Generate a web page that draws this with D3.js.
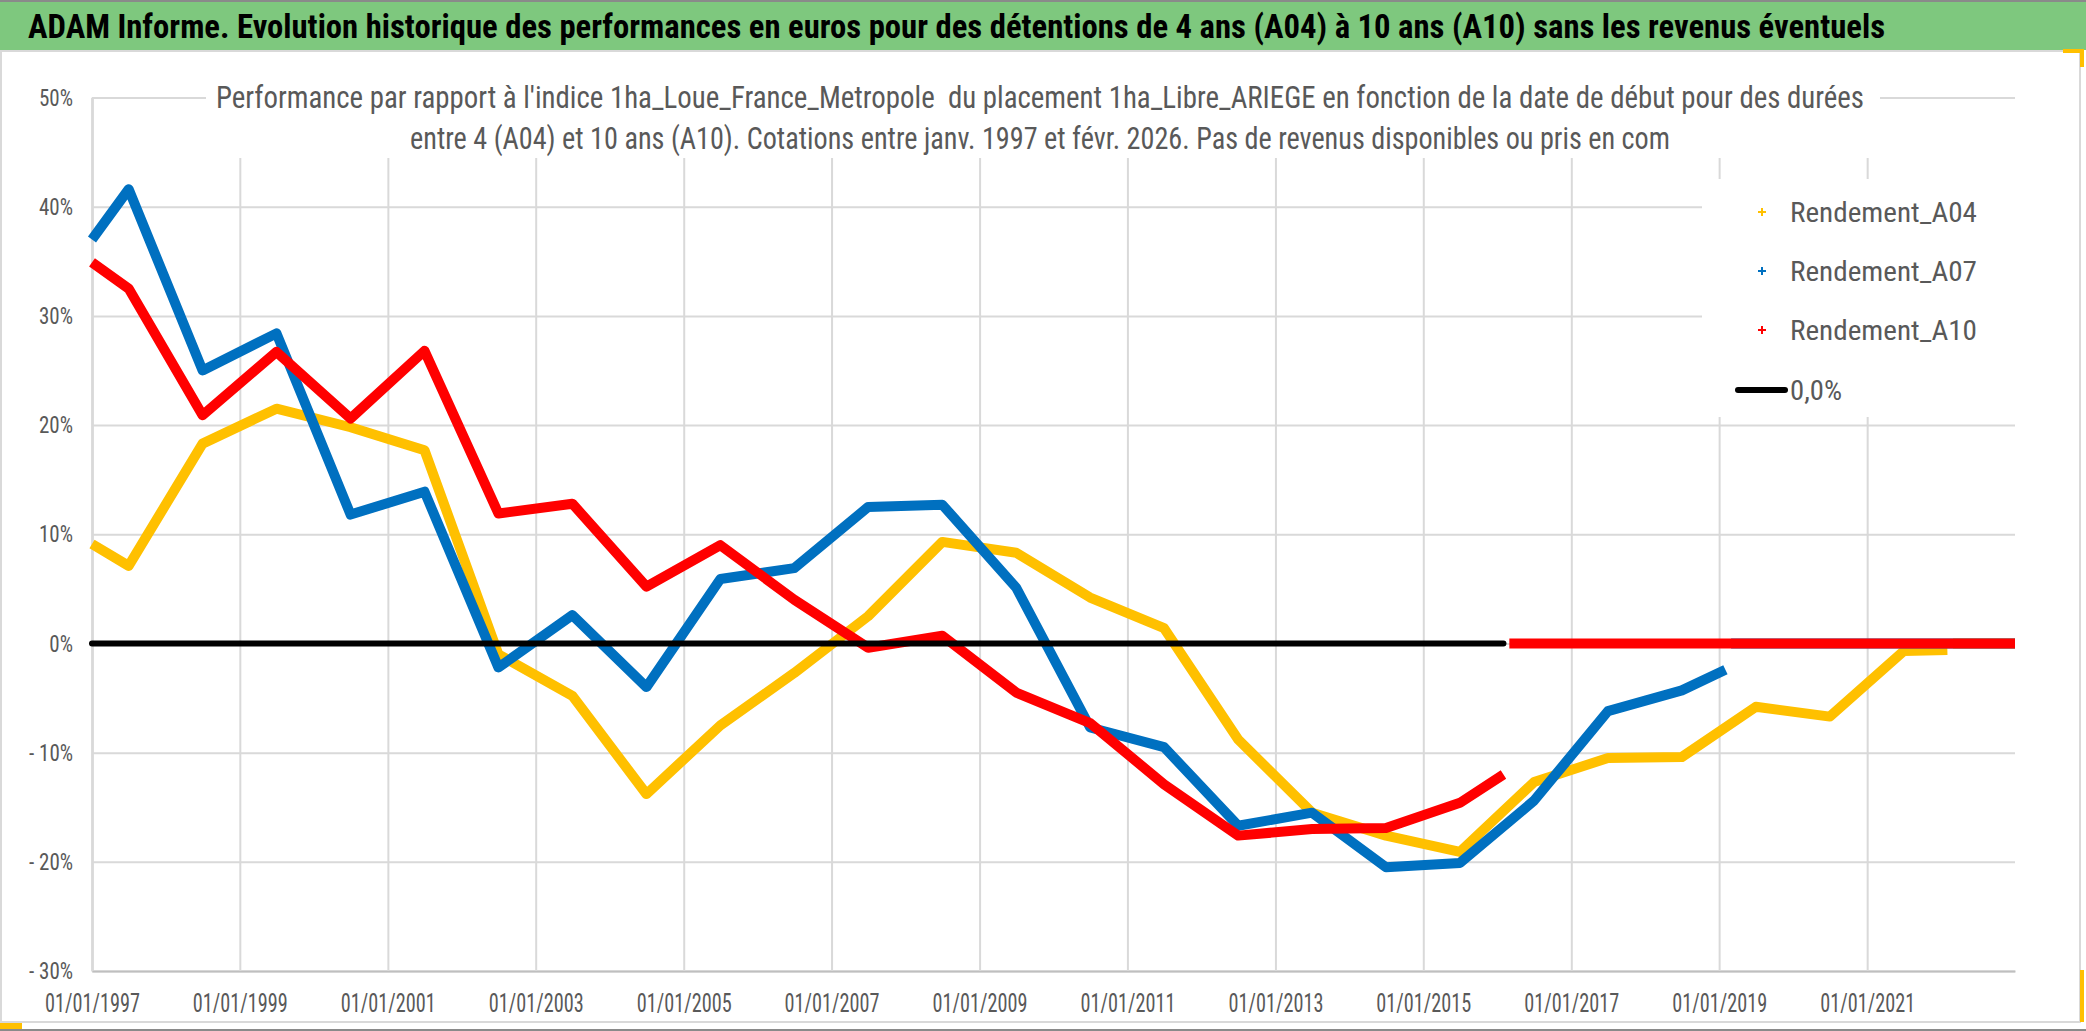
<!DOCTYPE html>
<html>
<head>
<meta charset="utf-8">
<script src="https://cdn.jsdelivr.net/npm/d3@7"></script>
<style>
  html, body { margin: 0; padding: 0; background: #fff; }
  svg { display: block; }
  text { font-family: 'Liberation Sans Narrow', 'Roboto Condensed', 'Arial Narrow', 'Liberation Sans', sans-serif; white-space: pre; }
</style>
</head>
<body>
<svg id="chart" width="2086" height="1031"></svg>
<script>
const titleText = 'ADAM Informe. Evolution historique des performances en euros pour des détentions de 4 ans (A04) à 10 ans (A10) sans les revenus éventuels';
const subtitleLines = [
  "Performance par rapport à l'indice 1ha_Loue_France_Metropole  du placement 1ha_Libre_ARIEGE en fonction de la date de début pour des durées",
  'entre 4 (A04) et 10 ans (A10). Cotations entre janv. 1997 et févr. 2026. Pas de revenus disponibles ou pris en com'
];

const yTicks = [50, 40, 30, 20, 10, 0, -10, -20, -30];
const xTickDates = ['1997-01-01', '1999-01-01', '2001-01-01', '2003-01-01', '2005-01-01', '2007-01-01',
  '2009-01-01', '2011-01-01', '2013-01-01', '2015-01-01', '2017-01-01', '2019-01-01', '2021-01-01'];
const xDomain = ['1997-01-01', '2023-01-01'];

const seriesNames = ['Rendement_A04', 'Rendement_A07', 'Rendement_A10'];
const seriesColors = ['#FFC000', '#0070C0', '#FF0000'];

// A04 : 4 year holdings (%), start date of the holding
const datesA04 = ['1997-01-01', '1997-07-01', '1998-07-01', '1999-07-01', '2000-07-01', '2001-07-01', '2002-07-01',
  '2003-07-01', '2004-07-01', '2005-07-01', '2006-07-01', '2007-07-01', '2008-07-01', '2009-07-01', '2010-07-01',
  '2011-07-01', '2012-07-01', '2013-07-01', '2014-07-01', '2015-07-01', '2016-07-01', '2017-07-01', '2018-07-01',
  '2019-07-01', '2020-07-01', '2021-07-01', '2022-02-01'];
const valuesA04 = [9.1, 7.1, 18.3, 21.5, 19.8, 17.7, -1.0, -4.8, -13.8, -7.5, -2.7, 2.5, 9.3, 8.3, 4.2,
  1.4, -8.8, -15.5, -17.6, -19.1, -12.7, -10.5, -10.4, -5.8, -6.7, -0.7, -0.6];

// A07
const datesA07 = ['1997-01-01', '1997-07-01', '1998-07-01', '1999-07-01', '2000-07-01', '2001-07-01', '2002-07-01',
  '2003-07-01', '2004-07-01', '2005-07-01', '2006-07-01', '2007-07-01', '2008-07-01', '2009-07-01', '2010-07-01',
  '2011-07-01', '2012-07-01', '2013-07-01', '2014-07-01', '2015-07-01', '2016-07-01', '2017-07-01', '2018-07-01',
  '2019-02-01'];
const valuesA07 = [37.0, 41.6, 25.0, 28.4, 11.8, 13.9, -2.2, 2.6, -4.0, 5.9, 6.9, 12.5, 12.7, 5.1, -7.7,
  -9.5, -16.7, -15.5, -20.5, -20.1, -14.4, -6.2, -4.3, -2.4];

// A10
const datesA10 = ['1997-01-01', '1997-07-01', '1998-07-01', '1999-07-01', '2000-07-01', '2001-07-01', '2002-07-01',
  '2003-07-01', '2004-07-01', '2005-07-01', '2006-07-01', '2007-07-01', '2008-07-01', '2009-07-01', '2010-07-01',
  '2011-07-01', '2012-07-01', '2013-07-01', '2014-07-01', '2015-07-01', '2016-02-01'];
const valuesA10 = [34.9, 32.5, 20.9, 26.7, 20.6, 26.8, 11.9, 12.8, 5.2, 9.0, 4.0, -0.4, 0.7, -4.5, -7.3,
  -12.9, -17.6, -17.0, -16.9, -14.6, -12.0];

// after the last available start date the series are filled with 0
const zeroTailStart = ['2022-03-01', '2019-03-01', '2016-03-01'];
const zeroTailEnd = '2023-01-01';
// "0,0%" reference series
const refDates = ['1997-01-01', '2016-02-01'];
const refValues = [0, 0];

const parse = d3.timeParse('%Y-%m-%d');
const svg = d3.select('#chart');
const W = 2086, H = 1031;
const grey = '#595959';

// frame
svg.append('rect').attr('width', W).attr('height', H).attr('fill', '#fff');
svg.append('rect').attr('x', 1).attr('y', 51).attr('width', 2079).attr('height', 971)
  .attr('fill', '#fff').attr('stroke', '#D9D9D9').attr('stroke-width', 2);
svg.append('rect').attr('x', 0).attr('y', 0).attr('width', W).attr('height', 50).attr('fill', '#7EC87E');
svg.append('line').attr('x1', 0).attr('x2', W).attr('y1', 1).attr('y2', 1).attr('stroke', '#8a8a8a').attr('stroke-width', 2);
svg.append('line').attr('x1', 0).attr('x2', W).attr('y1', 1030).attr('y2', 1030).attr('stroke', '#8a8a8a').attr('stroke-width', 2);
// selection handles
svg.append('rect').attr('x', 2063).attr('y', 49).attr('width', 21).attr('height', 4).attr('fill', '#FFC000');
svg.append('rect').attr('x', 2080).attr('y', 49).attr('width', 4).attr('height', 18).attr('fill', '#FFC000');
svg.append('rect').attr('x', 2080).attr('y', 970).attr('width', 4).attr('height', 52).attr('fill', '#FFC000');
svg.append('rect').attr('x', 0).attr('y', 1023).attr('width', 22).attr('height', 6).attr('fill', '#FFC000');

svg.append('text').attr('x', 28).attr('y', 38)
  .attr('font-size', 34).attr('font-weight', 'bold').attr('fill', '#000')
  .attr('textLength', 1857).attr('lengthAdjust', 'spacingAndGlyphs')
  .text(titleText);

// scales
const plot = { left: 92, right: 2015, top: 97.5, bottom: 971 };
const x = d3.scaleTime().domain(xDomain.map(parse)).range([plot.left, plot.right]);
const y = d3.scaleLinear().domain([-30, 50]).range([plot.bottom, plot.top]);

const fmtY = v => (v < 0 ? '- ' + Math.abs(v) : v) + '%';

const gy = svg.append('g').attr('transform', `translate(${plot.left},0)`)
  .call(d3.axisLeft(y).tickValues(yTicks).tickFormat(fmtY)
    .tickSizeInner(-(plot.right - plot.left)).tickSizeOuter(0).tickPadding(19));
gy.select('.domain').attr('stroke', '#BFBFBF').attr('stroke-width', 2);
gy.selectAll('.tick line').attr('stroke', '#D9D9D9').attr('stroke-width', 2);
gy.selectAll('.tick text').attr('fill', grey).attr('font-size', 24);

const gx = svg.append('g').attr('transform', `translate(0,${plot.bottom})`)
  .call(d3.axisBottom(x).tickValues(xTickDates.map(parse)).tickFormat(d3.timeFormat('%d/%m/%Y'))
    .tickSizeInner(-(plot.bottom - plot.top)).tickSizeOuter(0));
gx.select('.domain').attr('stroke', '#BFBFBF').attr('stroke-width', 2);
gx.selectAll('.tick line').attr('stroke', '#D9D9D9').attr('stroke-width', 2);
gx.selectAll('.tick text').attr('fill', grey).attr('font-size', 25)
  .attr('y', 41).attr('dy', null);
d3.selectAll('g').attr('font-family', null);

// squeeze labels to the narrow look of the reference
function squeeze(sel, sampleWidth, targetWidth) {
  const f = targetWidth / sampleWidth;
  sel.each(function () {
    const w = this.getComputedTextLength();
    d3.select(this).attr('textLength', w * f).attr('lengthAdjust', 'spacingAndGlyphs');
  });
}
const xt = gx.selectAll('.tick text');
squeeze(xt, xt.node().getComputedTextLength(), 95);
const yt = gy.selectAll('.tick text');
squeeze(yt, yt.node().getComputedTextLength(), 34);

// subtitle block (white background hides grid)
svg.append('rect').attr('x', 206).attr('y', 70).attr('width', 1674).attr('height', 88).attr('fill', '#fff');
const subLen = [1648, 1260];
subtitleLines.forEach((s, i) => {
  svg.append('text').attr('x', 1040).attr('y', 108 + i * 41).attr('text-anchor', 'middle')
    .attr('font-size', 31).attr('fill', grey)
    .attr('textLength', subLen[i]).attr('lengthAdjust', 'spacingAndGlyphs')
    .text(s);
});

// legend box
svg.append('rect').attr('x', 1702).attr('y', 179).attr('width', 376).attr('height', 238).attr('fill', '#fff');

// series
const line = d3.line().x(d => x(d[0])).y(d => y(d[1]));
const seriesDates = [datesA04, datesA07, datesA10];
const seriesValues = [valuesA04, valuesA07, valuesA10];
const gs = svg.append('g').attr('fill', 'none').attr('stroke-linejoin', 'round');
seriesNames.forEach((name, i) => {
  const pts = seriesDates[i].map((d, k) => [parse(d), seriesValues[i][k]]);
  const tail = [[parse(zeroTailStart[i]), 0], [parse(zeroTailEnd), 0]];
  gs.append('path').attr('d', line(tail)).attr('stroke', seriesColors[i]).attr('stroke-width', 10);
  gs.append('path').attr('d', line(pts)).attr('stroke', seriesColors[i]).attr('stroke-width', 10);
});
gs.append('path').attr('d', line(refDates.map((d, k) => [parse(d), refValues[k]])))
  .attr('stroke', '#000').attr('stroke-width', 6).attr('stroke-linecap', 'round');

// legend
const lg = svg.append('g');
const rowY = [212, 271, 330, 390];
seriesNames.forEach((name, i) => {
  lg.append('path').attr('d', `M${1758},${rowY[i]}h8M${1762},${rowY[i] - 4}v8`)
    .attr('stroke', seriesColors[i]).attr('stroke-width', 2);
  lg.append('text').attr('x', 1790).attr('y', rowY[i] + 10).attr('font-size', 28).attr('fill', grey)
    .attr('textLength', 187).attr('lengthAdjust', 'spacingAndGlyphs').text(name);
});
lg.append('line').attr('x1', 1738).attr('x2', 1785).attr('y1', rowY[3]).attr('y2', rowY[3])
  .attr('stroke', '#000').attr('stroke-width', 6).attr('stroke-linecap', 'round');
lg.append('text').attr('x', 1790).attr('y', rowY[3] + 10).attr('font-size', 28).attr('fill', grey)
  .attr('textLength', 52).attr('lengthAdjust', 'spacingAndGlyphs').text('0,0%');
</script>
</body>
</html>
